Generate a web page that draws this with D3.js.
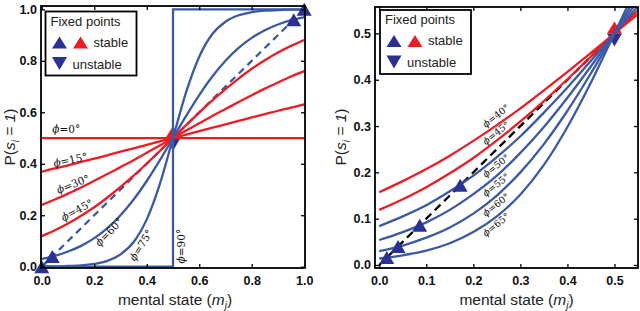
<!DOCTYPE html>
<html>
<head>
<meta charset="utf-8">
<script src="https://cdn.jsdelivr.net/npm/d3@7"></script>
<style>
  body { margin: 0; background: #fff; }
  svg { display: block; }
</style>
</head>
<body>
<script>
// ---- left panel data: P(s_i = 1) against mental state, one array per angle
var leftM = [0, 0.05, 0.1, 0.15, 0.2, 0.25, 0.3, 0.35, 0.4, 0.45, 0.5,
             0.55, 0.6, 0.65, 0.7, 0.75, 0.8, 0.85, 0.9, 0.95, 1];
var leftP0  = [0.5, 0.5, 0.5, 0.5, 0.5, 0.5, 0.5, 0.5, 0.5, 0.5, 0.5,
               0.5, 0.5, 0.5, 0.5, 0.5, 0.5, 0.5, 0.5, 0.5, 0.5];
var leftP15 = [0.369, 0.382, 0.394, 0.407, 0.420, 0.433, 0.447, 0.460, 0.473, 0.487, 0.5,
               0.513, 0.527, 0.540, 0.553, 0.567, 0.580, 0.593, 0.606, 0.618, 0.631];
var leftP30 = [0.240, 0.261, 0.284, 0.308, 0.334, 0.360, 0.387, 0.414, 0.443, 0.471, 0.5,
               0.529, 0.557, 0.586, 0.613, 0.640, 0.666, 0.692, 0.716, 0.739, 0.760];
var leftP45 = [0.119, 0.142, 0.168, 0.198, 0.231, 0.269, 0.310, 0.354, 0.401, 0.450, 0.5,
               0.550, 0.599, 0.646, 0.690, 0.731, 0.769, 0.802, 0.832, 0.858, 0.881];
var leftP60 = [0.030, 0.042, 0.059, 0.081, 0.111, 0.150, 0.200, 0.261, 0.333, 0.414, 0.5,
               0.586, 0.667, 0.739, 0.800, 0.850, 0.889, 0.919, 0.941, 0.958, 0.970];
var leftP75 = [0.001, 0.001, 0.003, 0.005, 0.011, 0.023, 0.048, 0.096, 0.184, 0.322, 0.5,
               0.678, 0.816, 0.904, 0.952, 0.977, 0.989, 0.995, 0.997, 0.999, 0.999];
var stepM = [0, 0.5, 0.5, 1];
var stepP = [0, 0, 1, 1];
var leftStableM = [0, 1, 0.04, 0.96];
var leftStableP = [0, 1, 0.04, 0.96];
var leftTicks = [0, 0.2, 0.4, 0.6, 0.8, 1.0];

// ---- right panel data (zoom on the lower half)
var rightM = [0, 0.05, 0.1, 0.15, 0.2, 0.25, 0.3, 0.35, 0.4, 0.45, 0.5, 0.55];
var rightP40 = [0.157, 0.181, 0.207, 0.236, 0.268, 0.302, 0.338, 0.377, 0.417, 0.458, 0.5, 0.542];
var rightP45 = [0.119, 0.142, 0.168, 0.198, 0.231, 0.269, 0.310, 0.354, 0.401, 0.450, 0.5, 0.550];
var rightP50 = [0.084, 0.105, 0.129, 0.159, 0.193, 0.233, 0.278, 0.329, 0.383, 0.441, 0.5, 0.559];
var rightP55 = [0.054, 0.071, 0.092, 0.119, 0.153, 0.193, 0.242, 0.298, 0.361, 0.429, 0.5, 0.571];
var rightP60 = [0.030, 0.042, 0.059, 0.081, 0.111, 0.150, 0.200, 0.261, 0.333, 0.414, 0.5, 0.586];
var rightP65 = [0.014, 0.021, 0.031, 0.047, 0.071, 0.105, 0.152, 0.216, 0.298, 0.394, 0.5, 0.606];
var rightStableM = [0.172, 0.086, 0.040, 0.016];
var rightStableP = [0.172, 0.086, 0.040, 0.016];
var rightTicks = [0, 0.1, 0.2, 0.3, 0.4, 0.5];

var RED = "#ec1c24", BLUE = "#3b5aa6", NAVY = "#2b3192";

var svg = d3.select("body").append("svg")
  .attr("width", 640)
  .attr("height", 311);

function tri(cx, cy, w, h, up) {
  if (up)
    return "M" + cx + "," + (cy - h / 2) + "L" + (cx + w / 2) + "," + (cy + h / 2) + "L" + (cx - w / 2) + "," + (cy + h / 2) + "Z";
  return "M" + cx + "," + (cy + h / 2) + "L" + (cx + w / 2) + "," + (cy - h / 2) + "L" + (cx - w / 2) + "," + (cy - h / 2) + "Z";
}

function drawPanel(cfg) {
  var x = d3.scaleLinear().domain(cfg.xDomain).range([cfg.left, cfg.right]);
  var y = d3.scaleLinear().domain(cfg.yDomain).range([cfg.bottom, cfg.top]);
  var g = svg.append("g");

  g.append("clipPath").attr("id", cfg.id)
    .append("rect")
    .attr("x", cfg.left).attr("y", cfg.top)
    .attr("width", cfg.right - cfg.left).attr("height", cfg.bottom - cfg.top);

  var plot = g.append("g").attr("clip-path", "url(#" + cfg.id + ")");
  var smooth = d3.line().x(function(d) { return x(d[0]); }).y(function(d) { return y(d[1]); })
    .curve(d3.curveMonotoneX);
  var straight = d3.line().x(function(d) { return x(d[0]); }).y(function(d) { return y(d[1]); });

  // diagonal P = m
  plot.append("path")
    .datum([[0, 0], [cfg.xDomain[1], cfg.xDomain[1]]])
    .attr("d", straight)
    .attr("fill", "none")
    .attr("stroke", cfg.diagColor)
    .attr("stroke-width", 2.3)
    .attr("stroke-dasharray", cfg.dash);

  // unstable / stable pair at 0.5
  g.append("path").attr("d", tri(x(0.5), y(0.5) - 6, 15, 12, true)).attr("fill", RED);
  g.append("path").attr("d", tri(x(0.5), y(0.5) + 6.5, 15, 13, false)).attr("fill", NAVY);

  var lines = g.append("g").attr("clip-path", "url(#" + cfg.id + ")");
  cfg.curves.forEach(function(c) {
    lines.append("path")
      .datum(cfg.m.map(function(m, i) { return [m, c.p[i]]; }))
      .attr("d", smooth)
      .attr("fill", "none")
      .attr("stroke", c.color)
      .attr("stroke-width", 2.3);
  });

  if (cfg.step) {
    lines.append("path")
      .datum(stepM.map(function(m, i) { return [m, stepP[i]]; }))
      .attr("d", straight)
      .attr("fill", "none")
      .attr("stroke", BLUE)
      .attr("stroke-width", 2.3);
  }

  cfg.stableM.forEach(function(m, i) {
    g.append("path")
      .attr("d", tri(x(m), y(cfg.stableP[i]), 15, 13, true))
      .attr("fill", NAVY);
  });

  // angle labels
  cfg.labels.forEach(function(l) {
    var t = g.append("text")
      .attr("transform", "translate(" + x(l.m) + "," + y(l.p) + ") rotate(" + l.rot + ")")
      .attr("text-anchor", "middle")
      .attr("dy", "0.35em")
      .style("font-family", "'DejaVu Serif', serif")
      .style("font-size", cfg.labelSize + "px")
      .style("fill", "#111");
    t.append("tspan").style("font-style", "italic").text("\u03d5");
    t.append("tspan").text("=" + l.phi + "\u00b0");
  });

  // axes, ticks pointing inward on all four sides
  var fmt = d3.format(".1f");
  var bottom = g.append("g")
    .attr("transform", "translate(0," + cfg.bottom + ")")
    .call(d3.axisBottom(x).tickValues(cfg.ticks).tickSize(-4).tickPadding(8).tickFormat(fmt));
  var top = g.append("g")
    .attr("transform", "translate(0," + cfg.top + ")")
    .call(d3.axisTop(x).tickValues(cfg.ticks).tickSize(-4).tickFormat(""));
  var left = g.append("g")
    .attr("transform", "translate(" + cfg.left + ",0)")
    .call(d3.axisLeft(y).tickValues(cfg.ticks).tickSize(-4).tickPadding(4).tickFormat(fmt));
  var right = g.append("g")
    .attr("transform", "translate(" + cfg.right + ",0)")
    .call(d3.axisRight(y).tickValues(cfg.ticks).tickSize(-4).tickFormat(""));
  [bottom, top, left, right].forEach(function(a) {
    a.select(".domain").remove();
    a.selectAll("line").attr("stroke", "#000").attr("stroke-width", 1.3);
    a.selectAll("text")
      .style("font-family", "'Liberation Sans', Arial, sans-serif")
      .style("font-size", "12.5px")
      .style("font-weight", "bold")
      .style("fill", "#111");
  });

  g.append("rect")
    .attr("x", cfg.left).attr("y", cfg.top)
    .attr("width", cfg.right - cfg.left).attr("height", cfg.bottom - cfg.top)
    .attr("fill", "none")
    .attr("stroke", "#000")
    .attr("stroke-width", 1.8);

  // axis titles
  var xl = g.append("text")
    .attr("x", (cfg.left + cfg.right) / 2 + cfg.xLabelShift)
    .attr("y", 305)
    .attr("text-anchor", "middle")
    .style("font-family", "'Liberation Sans', Arial, sans-serif")
    .style("font-size", "15.5px")
    .style("fill", "#222");
  xl.append("tspan").text("mental state (");
  xl.append("tspan").style("font-style", "italic").text("m");
  xl.append("tspan").style("font-style", "italic").style("font-size", "10px").attr("dy", 4).text("j");
  xl.append("tspan").attr("dy", -4).text(")");

  var yl = g.append("text")
    .attr("transform", "translate(" + cfg.yLabelX + ",137) rotate(-90)")
    .attr("text-anchor", "middle")
    .style("font-family", "'Liberation Sans', Arial, sans-serif")
    .style("font-size", "15.5px")
    .style("fill", "#222");
  yl.append("tspan").text("P(");
  yl.append("tspan").style("font-style", "italic").text("s");
  yl.append("tspan").style("font-style", "italic").style("font-size", "10px").attr("dy", 4).text("i");
  yl.append("tspan").style("font-style", "italic").attr("dy", -4).text(" = 1");
  yl.append("tspan").text(")");

  // legend
  var lg = g.append("g").attr("transform", "translate(" + cfg.legend[0] + "," + cfg.legend[1] + ")");
  lg.append("rect")
    .attr("width", 91).attr("height", 64)
    .attr("fill", "#fff")
    .attr("stroke", "#000")
    .attr("stroke-width", 1.8);
  var ls = function(sel) {
    return sel.style("font-family", "'Liberation Sans', Arial, sans-serif")
      .style("font-size", "13px").style("fill", "#222");
  };
  ls(lg.append("text").attr("x", 5).attr("y", 14).text("Fixed points"));
  lg.append("path").attr("d", tri(14, 31, 15, 12, true)).attr("fill", NAVY);
  lg.append("path").attr("d", tri(35, 31, 15, 12, true)).attr("fill", RED);
  ls(lg.append("text").attr("x", 48).attr("y", 35).text("stable"));
  lg.append("path").attr("d", tri(14, 52, 15, 13, false)).attr("fill", NAVY);
  ls(lg.append("text").attr("x", 27).attr("y", 57).text("unstable"));
}

drawPanel({
  id: "clipL",
  left: 41, right: 305, top: 6, bottom: 268,
  xDomain: [-0.003, 1.003], yDomain: [-0.005, 1.013],
  ticks: leftTicks,
  m: leftM,
  curves: [
    {p: leftP0, color: RED}, {p: leftP15, color: RED}, {p: leftP30, color: RED},
    {p: leftP45, color: RED}, {p: leftP60, color: BLUE}, {p: leftP75, color: BLUE}
  ],
  step: true,
  diagColor: BLUE, dash: "7,5",
  stableM: leftStableM, stableP: leftStableP,
  labelSize: 10.5,
  labels: [
    {phi: 0, m: 0.093, p: 0.535, rot: 0},
    {phi: 15, m: 0.109, p: 0.415, rot: -12},
    {phi: 30, m: 0.119, p: 0.321, rot: -21},
    {phi: 45, m: 0.134, p: 0.220, rot: -28},
    {phi: 60, m: 0.256, p: 0.135, rot: -46},
    {phi: 75, m: 0.378, p: 0.084, rot: -58},
    {phi: 90, m: 0.530, p: 0.080, rot: -90}
  ],
  xLabelShift: 2, yLabelX: 15,
  legend: [45.5, 11.5]
});

drawPanel({
  id: "clipR",
  left: 375, right: 638, top: 7, bottom: 268,
  xDomain: [-0.009, 0.55], yDomain: [-0.0065, 0.557],
  ticks: rightTicks,
  m: rightM,
  curves: [
    {p: rightP40, color: RED}, {p: rightP45, color: RED}, {p: rightP50, color: BLUE},
    {p: rightP55, color: BLUE}, {p: rightP60, color: BLUE}, {p: rightP65, color: BLUE}
  ],
  step: false,
  diagColor: "#000", dash: "8,5",
  stableM: rightStableM, stableP: rightStableP,
  labelSize: 9.5,
  labels: [
    {phi: 40, m: 0.248, p: 0.322, rot: -38},
    {phi: 45, m: 0.248, p: 0.285, rot: -38},
    {phi: 50, m: 0.248, p: 0.214, rot: -38},
    {phi: 55, m: 0.248, p: 0.173, rot: -38},
    {phi: 60, m: 0.248, p: 0.130, rot: -38},
    {phi: 65, m: 0.248, p: 0.087, rot: -38}
  ],
  xLabelShift: 10, yLabelX: 346,
  legend: [380, 10]
});
</script>
</body>
</html>
